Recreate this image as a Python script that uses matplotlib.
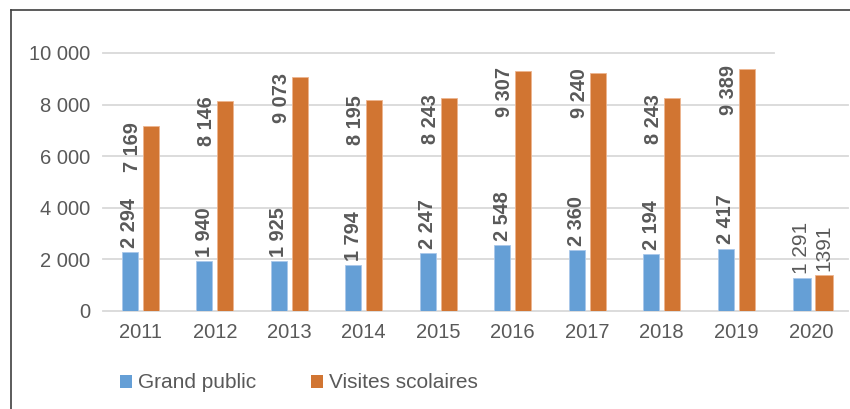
import matplotlib
matplotlib.use("Agg")
import matplotlib.pyplot as plt
from matplotlib.lines import Line2D
from matplotlib.patches import Patch

plt.rcParams['font.family'] = ['Liberation Sans', 'DejaVu Sans']

years = ["2011", "2012", "2013", "2014", "2015", "2016", "2017", "2018", "2019", "2020"]
grand_public = [2294, 1940, 1925, 1794, 2247, 2548, 2360, 2194, 2417, 1291]
visites_scolaires = [7169, 8146, 9073, 8195, 8243, 9307, 9240, 8243, 9389, 1391]
gp_labels = ["2 294", "1 940", "1 925", "1 794", "2 247", "2 548", "2 360", "2 194", "2 417", "1 291"]
vs_labels = ["7 169", "8 146", "9 073", "8 195", "8 243", "9 307", "9 240", "8 243", "9 389", "1391"]
y_ticks = [0, 2000, 4000, 6000, 8000, 10000]
y_ticklabels = ["0", "2 000", "4 000", "6 000", "8 000", "10 000"]
series_names = ["Grand public", "Visites scolaires"]

# style
blue = "#659FD6"
orange = "#D17532"
txt = "#595959"
grid_c = "#D9D9D9"
W, H = 850, 409

fig = plt.figure(figsize=(8.5, 4.09), dpi=100)
ax = fig.add_axes([103 / W, (H - 311) / H, 745 / W, 258 / H])
ax.set_xlim(-0.5, 9.5)
ax.set_ylim(0, 10000)

n = len(years)
for i in range(n):
    last = (i == n - 1)
    w = 0.245 if last else 0.215
    ob = -0.12 if last else -0.141
    oo = 0.175 if last else 0.141
    ax.bar(i + ob, grand_public[i], width=w, color=blue, edgecolor="#A9C8EA",
           linewidth=0.6, zorder=3)
    ax.bar(i + oo, visites_scolaires[i], width=w, color=orange, edgecolor="#EDB58F",
           linewidth=0.6, zorder=3)
    weight = "normal" if last else "bold"
    fs = 15 if last else 14.3
    ax.annotate(gp_labels[i], (i + ob, grand_public[i]), xytext=(0, 3),
                textcoords="offset points", rotation=90, ha="center", va="bottom",
                fontsize=fs, fontweight=weight, color=txt, zorder=4)
    if last:
        ax.annotate(vs_labels[i], (i + oo, visites_scolaires[i]), xytext=(0, 3),
                    textcoords="offset points", rotation=90, ha="center", va="bottom",
                    fontsize=fs, fontweight=weight, color=txt, zorder=4)
    else:
        ax.annotate(vs_labels[i], (i - 0.105, visites_scolaires[i]), xytext=(0, 3),
                    textcoords="offset points", rotation=90, ha="center", va="top",
                    fontsize=fs, fontweight=weight, color=txt, zorder=4)

for t in y_ticks:
    xmax = 0.9 if t == 10000 else 1.0
    ax.axhline(t, xmin=0, xmax=xmax, color=grid_c, linewidth=1.3, zorder=1, clip_on=False)

for s in ax.spines.values():
    s.set_visible(False)
ax.set_xticks(range(n))
ax.set_xticklabels(years, fontsize=14.5, color=txt)
ax.set_yticks(y_ticks)
ax.set_yticklabels(y_ticklabels, fontsize=14.5, color=txt)
ax.tick_params(axis="both", length=0)
ax.tick_params(axis="y", pad=9)
ax.tick_params(axis="x", pad=9)

handles = [Patch(facecolor=blue, edgecolor="none"), Patch(facecolor=orange, edgecolor="none")]
fig.legend(handles, series_names, loc="center left",
           bbox_to_anchor=(120 / W, 1 - 383 / H), ncol=2, frameon=False,
           fontsize=15, labelcolor=txt, handlelength=0.58, handleheight=0.58,
           handletextpad=0.29, columnspacing=2.64, borderpad=0, borderaxespad=0)

# outer frame fragments
fig.add_artist(Line2D([10.5 / W, 10.5 / W], [0, 1 - 9.5 / H], color="#404040", linewidth=1.2))
fig.add_artist(Line2D([10.5 / W, 1], [1 - 9.5 / H, 1 - 9.5 / H], color="#404040", linewidth=1.2))

fig.savefig("out.png", dpi=100)
